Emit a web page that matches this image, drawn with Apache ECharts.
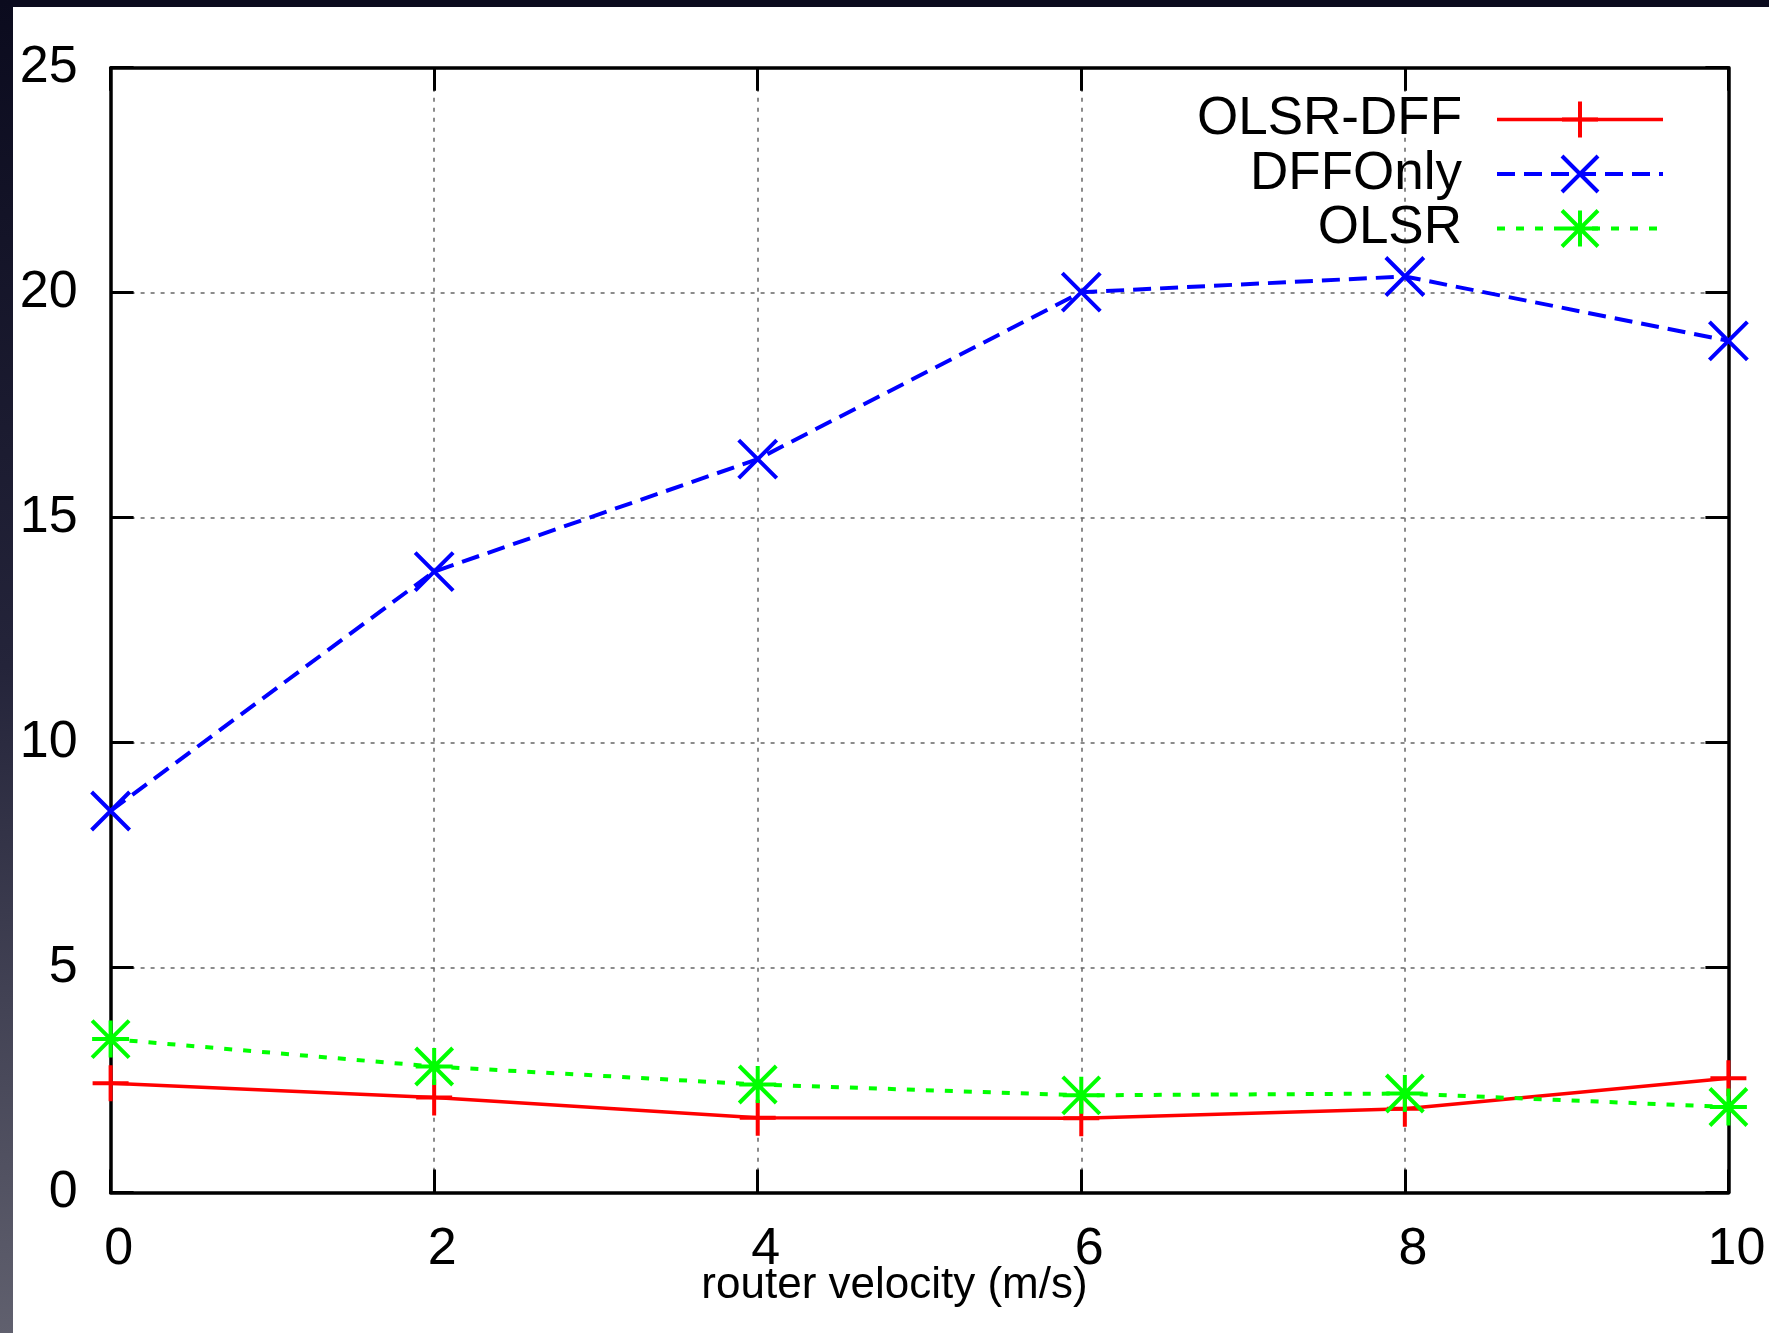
<!DOCTYPE html>
<html><head><meta charset="utf-8">
<script src="https://cdn.jsdelivr.net/npm/echarts@6/dist/echarts.min.js"></script>
<style>
html,body{margin:0;padding:0;background:#fff;}
#wrap{position:relative;width:1769px;height:1333px;background:#fff;overflow:hidden;}
#chart{position:absolute;left:0;top:0;width:1769px;height:1333px;}
#topband{position:absolute;left:0;top:0;width:1769px;height:7px;background:#0b0b1e;z-index:5;}
#leftband{position:absolute;left:0;top:0;width:13px;height:1333px;background:linear-gradient(#0b0b1e,#24243a 50%,#60606e);z-index:5;}
</style></head>
<body>
<div id="wrap"><div id="chart"></div><div id="topband"></div><div id="leftband"></div></div>
<script>
const velocity = [0, 2, 4, 6, 8, 10];
const olsrDff = [2.43, 2.11, 1.66, 1.65, 1.86, 2.54];
const dffOnly = [8.48, 13.80, 16.30, 20.01, 20.36, 18.93];
const olsr = [3.41, 2.80, 2.40, 2.16, 2.20, 1.90];
const seriesNames = ['OLSR-DFF', 'DFFOnly', 'OLSR'];
const xAxisTitle = 'router velocity (m/s)';
const xMin = 0, xMax = 10, xStep = 2;
const yMin = 0, yMax = 25, yStep = 5;

const FONT = 'Liberation Sans, Arial, Helvetica, sans-serif';
const PLUS = 'path://M0,5L10,5M5,0L5,10';
const CROSS = 'path://M0,0L10,10M0,10L10,0';
const STAR = 'path://M0,5L10,5M5,0L5,10M0,0L10,10M0,10L10,0';

function pairs(ys) { return velocity.map((x, i) => [x, ys[i]]); }

const axisLineStyle = { color: '#000', width: 3.5 };
const tickStyle = { show: true, inside: true, length: 23, lineStyle: { color: '#000', width: 3 } };
const gridStyle = { show: true, lineStyle: { color: '#666', width: 1.5, type: [4, 6] } };

function mkSeries(name, ys, color, dash, width, symbol, size) {
  return {
    name: name, type: 'line', data: pairs(ys),
    symbol: symbol, symbolSize: size, clip: false,
    lineStyle: { color: color, width: width, type: dash },
    itemStyle: { color: color, borderColor: color, borderWidth: 4 },
    emphasis: { disabled: true },
    animation: false
  };
}

const chart = echarts.init(document.getElementById('chart'));
chart.setOption({
  animation: false,
  backgroundColor: 'transparent',
  grid: { left: 110.6, right: 40.6, top: 67.7, bottom: 140.5, containLabel: false },
  legend: {
    orient: 'vertical', right: 99, top: 88, align: 'right',
    itemWidth: 166, itemHeight: 45, itemGap: 1.5,
    textStyle: { fontFamily: FONT, fontSize: 53, color: '#000', padding: [0, 30, 0, 0] },
    data: [
      { name: seriesNames[0], itemStyle: { borderColor: '#ff0000', borderWidth: 4 }, lineStyle: { color: '#ff0000', width: 3.5, type: 'solid' } },
      { name: seriesNames[1], itemStyle: { borderColor: '#0000ff', borderWidth: 4 }, lineStyle: { color: '#0000ff', width: 4, type: [18, 9] } },
      { name: seriesNames[2], itemStyle: { borderColor: '#00ff00', borderWidth: 4 }, lineStyle: { color: '#00ff00', width: 4, type: [8, 11] } }
    ]
  },
  xAxis: [
    {
      type: 'value', position: 'bottom', min: xMin, max: xMax, interval: xStep,
      axisLine: { show: true, onZero: false, lineStyle: axisLineStyle },
      axisTick: tickStyle, splitLine: gridStyle,
      axisLabel: { show: true, margin: 31, fontFamily: FONT, fontSize: 52, color: '#000', padding: [0, 0, 0, 16] },
      name: xAxisTitle, nameLocation: 'middle', nameGap: 71, nameMoveOverlap: false,
      nameTextStyle: { fontFamily: FONT, fontSize: 44, color: '#000', padding: [0, 50, 0, 0] }
    },
    {
      type: 'value', position: 'top', min: xMin, max: xMax, interval: xStep,
      axisLine: { show: true, onZero: false, lineStyle: axisLineStyle },
      axisTick: tickStyle, splitLine: { show: false }, axisLabel: { show: false }
    }
  ],
  yAxis: [
    {
      type: 'value', position: 'left', min: yMin, max: yMax, interval: yStep,
      axisLine: { show: true, onZero: false, lineStyle: axisLineStyle },
      axisTick: tickStyle, splitLine: gridStyle,
      axisLabel: { show: true, margin: 33, fontFamily: FONT, fontSize: 52, color: '#000', padding: [4, 0, 0, 0] }
    },
    {
      type: 'value', position: 'right', min: yMin, max: yMax, interval: yStep,
      axisLine: { show: true, onZero: false, lineStyle: axisLineStyle },
      axisTick: tickStyle, splitLine: { show: false }, axisLabel: { show: false }
    }
  ],
  series: [
    mkSeries(seriesNames[0], olsrDff, '#ff0000', 'solid', 3.5, PLUS, 36),
    mkSeries(seriesNames[1], dffOnly, '#0000ff', [18, 9], 4, CROSS, 38),
    mkSeries(seriesNames[2], olsr, '#00ff00', [8, 11], 4, STAR, 37)
  ]
});
</script>
</body></html>
